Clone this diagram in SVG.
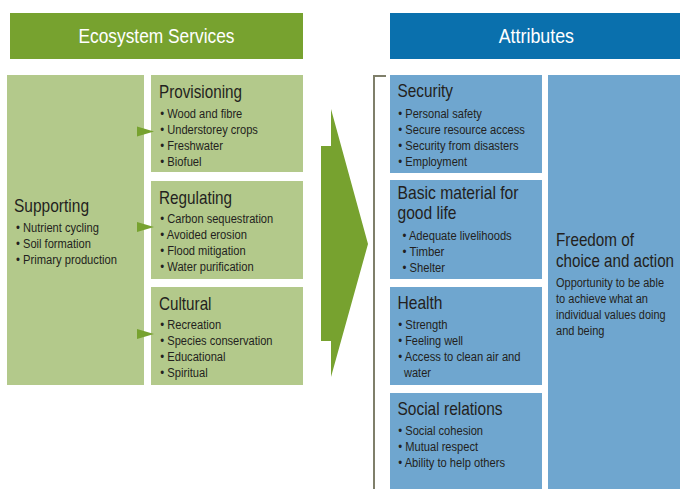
<svg xmlns="http://www.w3.org/2000/svg" width="680" height="489" viewBox="0 0 680 489">
<style>
text{font-family:"Liberation Sans",Arial,sans-serif;fill:#231f20}
.hd{font-size:19.5px;fill:#ffffff}
.t{font-size:18.5px}
.b{font-size:12.5px}
.g{fill:#b3c98b}
.bl{fill:#6fa6cf}
</style>
<rect width="680" height="489" fill="#ffffff"/>
<g id="hdr-eco"><rect x="10" y="13" width="293" height="46" fill="#77a22f"/><text class="hd" x="78.5" y="43" textLength="156" lengthAdjust="spacingAndGlyphs">Ecosystem Services</text></g>
<g id="hdr-attr"><rect x="390" y="13" width="290" height="46" fill="#0a70ad"/><text class="hd" x="498.7" y="43" textLength="75.3" lengthAdjust="spacingAndGlyphs">Attributes</text></g>
<g id="supporting"><rect class="g" x="7" y="75" width="137" height="310"/>
<text class="t" x="14" y="212" textLength="75" lengthAdjust="spacingAndGlyphs">Supporting</text>
<text class="b" x="16" y="232" textLength="82.9" lengthAdjust="spacingAndGlyphs">• Nutrient cycling</text>
<text class="b" x="16" y="248" textLength="74.9" lengthAdjust="spacingAndGlyphs">• Soil formation</text>
<text class="b" x="16" y="264" textLength="101" lengthAdjust="spacingAndGlyphs">• Primary production</text></g>
<g id="provisioning"><rect class="g" x="151" y="75" width="152" height="97"/>
<text class="t" x="159" y="98" textLength="83" lengthAdjust="spacingAndGlyphs">Provisioning</text>
<text class="b" x="160.3" y="118" textLength="82" lengthAdjust="spacingAndGlyphs">• Wood and fibre</text>
<text class="b" x="160.3" y="134" textLength="97.6" lengthAdjust="spacingAndGlyphs">• Understorey crops</text>
<text class="b" x="160.3" y="150" textLength="62.7" lengthAdjust="spacingAndGlyphs">• Freshwater</text>
<text class="b" x="160.3" y="166" textLength="41.3" lengthAdjust="spacingAndGlyphs">• Biofuel</text></g>
<g id="regulating"><rect class="g" x="151" y="181" width="152" height="98"/>
<text class="t" x="159" y="204" textLength="73" lengthAdjust="spacingAndGlyphs">Regulating</text>
<text class="b" x="160.3" y="223" textLength="112.9" lengthAdjust="spacingAndGlyphs">• Carbon sequestration</text>
<text class="b" x="160.3" y="239" textLength="86.6" lengthAdjust="spacingAndGlyphs">• Avoided erosion</text>
<text class="b" x="160.3" y="255" textLength="85.3" lengthAdjust="spacingAndGlyphs">• Flood mitigation</text>
<text class="b" x="160.3" y="271" textLength="93.3" lengthAdjust="spacingAndGlyphs">• Water purification</text></g>
<g id="cultural"><rect class="g" x="151" y="287" width="152" height="98"/>
<text class="t" x="159" y="310" textLength="52.5" lengthAdjust="spacingAndGlyphs">Cultural</text>
<text class="b" x="160.3" y="329" textLength="60.9" lengthAdjust="spacingAndGlyphs">• Recreation</text>
<text class="b" x="160.3" y="345" textLength="112.2" lengthAdjust="spacingAndGlyphs">• Species conservation</text>
<text class="b" x="160.3" y="361" textLength="65.2" lengthAdjust="spacingAndGlyphs">• Educational</text>
<text class="b" x="160.3" y="377" textLength="47.4" lengthAdjust="spacingAndGlyphs">• Spiritual</text></g>
<g id="connectors" fill="#77a22f">
<polygon points="137,126.5 154,131.5 137,136.5"/>
<polygon points="137,222 154,227 137,232"/>
<polygon points="137,329 154,334 137,339"/>
<polygon points="321,146 331,146 331,109 368,244 331,377 331,341 321,341"/>
<path d="M386,76 H374 V489" fill="none" stroke="#7f7f6a" stroke-width="2"/>
</g>
<g id="security"><rect class="bl" x="390" y="75" width="152" height="98"/>
<text class="t" x="397.5" y="97" textLength="55.5" lengthAdjust="spacingAndGlyphs">Security</text>
<text class="b" x="398.3" y="118" textLength="83.5" lengthAdjust="spacingAndGlyphs">• Personal safety</text>
<text class="b" x="398.3" y="134" textLength="126.5" lengthAdjust="spacingAndGlyphs">• Secure resource access</text>
<text class="b" x="398.3" y="150" textLength="120.2" lengthAdjust="spacingAndGlyphs">• Security from disasters</text>
<text class="b" x="398.3" y="166" textLength="68.8" lengthAdjust="spacingAndGlyphs">• Employment</text></g>
<g id="basic"><rect class="bl" x="390" y="180" width="152" height="99"/>
<text class="t" x="397.5" y="199" textLength="121" lengthAdjust="spacingAndGlyphs">Basic material for</text>
<text class="t" x="397.5" y="219" textLength="59" lengthAdjust="spacingAndGlyphs">good life</text>
<text class="b" x="402.5" y="240" textLength="109.2" lengthAdjust="spacingAndGlyphs">• Adequate livelihoods</text>
<text class="b" x="402.5" y="256" textLength="41.9" lengthAdjust="spacingAndGlyphs">• Timber</text>
<text class="b" x="402.5" y="272" textLength="42.5" lengthAdjust="spacingAndGlyphs">• Shelter</text></g>
<g id="health"><rect class="bl" x="390" y="287" width="152" height="98"/>
<text class="t" x="397.5" y="309" textLength="45" lengthAdjust="spacingAndGlyphs">Health</text>
<text class="b" x="398.3" y="329" textLength="49.3" lengthAdjust="spacingAndGlyphs">• Strength</text>
<text class="b" x="398.3" y="345" textLength="64.7" lengthAdjust="spacingAndGlyphs">• Feeling well</text>
<text class="b" x="398.3" y="361" textLength="122.3" lengthAdjust="spacingAndGlyphs">• Access to clean air and</text>
<text class="b" x="404" y="377" textLength="27" lengthAdjust="spacingAndGlyphs">water</text></g>
<g id="social"><rect class="bl" x="390" y="393" width="152" height="96"/>
<text class="t" x="397.5" y="415" textLength="105" lengthAdjust="spacingAndGlyphs">Social relations</text>
<text class="b" x="398.3" y="435" textLength="84.7" lengthAdjust="spacingAndGlyphs">• Social cohesion</text>
<text class="b" x="398.3" y="451" textLength="79.8" lengthAdjust="spacingAndGlyphs">• Mutual respect</text>
<text class="b" x="398.3" y="467" textLength="106.7" lengthAdjust="spacingAndGlyphs">• Ability to help others</text></g>
<g id="freedom"><rect class="bl" x="548" y="75" width="132" height="414"/>
<text class="t" x="556" y="246" textLength="78" lengthAdjust="spacingAndGlyphs">Freedom of</text>
<text class="t" x="556" y="267" textLength="118" lengthAdjust="spacingAndGlyphs">choice and action</text>
<text class="b" x="556" y="287" textLength="108" lengthAdjust="spacingAndGlyphs">Opportunity to be able</text>
<text class="b" x="556" y="303" textLength="92" lengthAdjust="spacingAndGlyphs">to achieve what an</text>
<text class="b" x="556" y="319" textLength="109.5" lengthAdjust="spacingAndGlyphs">individual values doing</text>
<text class="b" x="556" y="335" textLength="48.5" lengthAdjust="spacingAndGlyphs">and being</text></g>
</svg>
